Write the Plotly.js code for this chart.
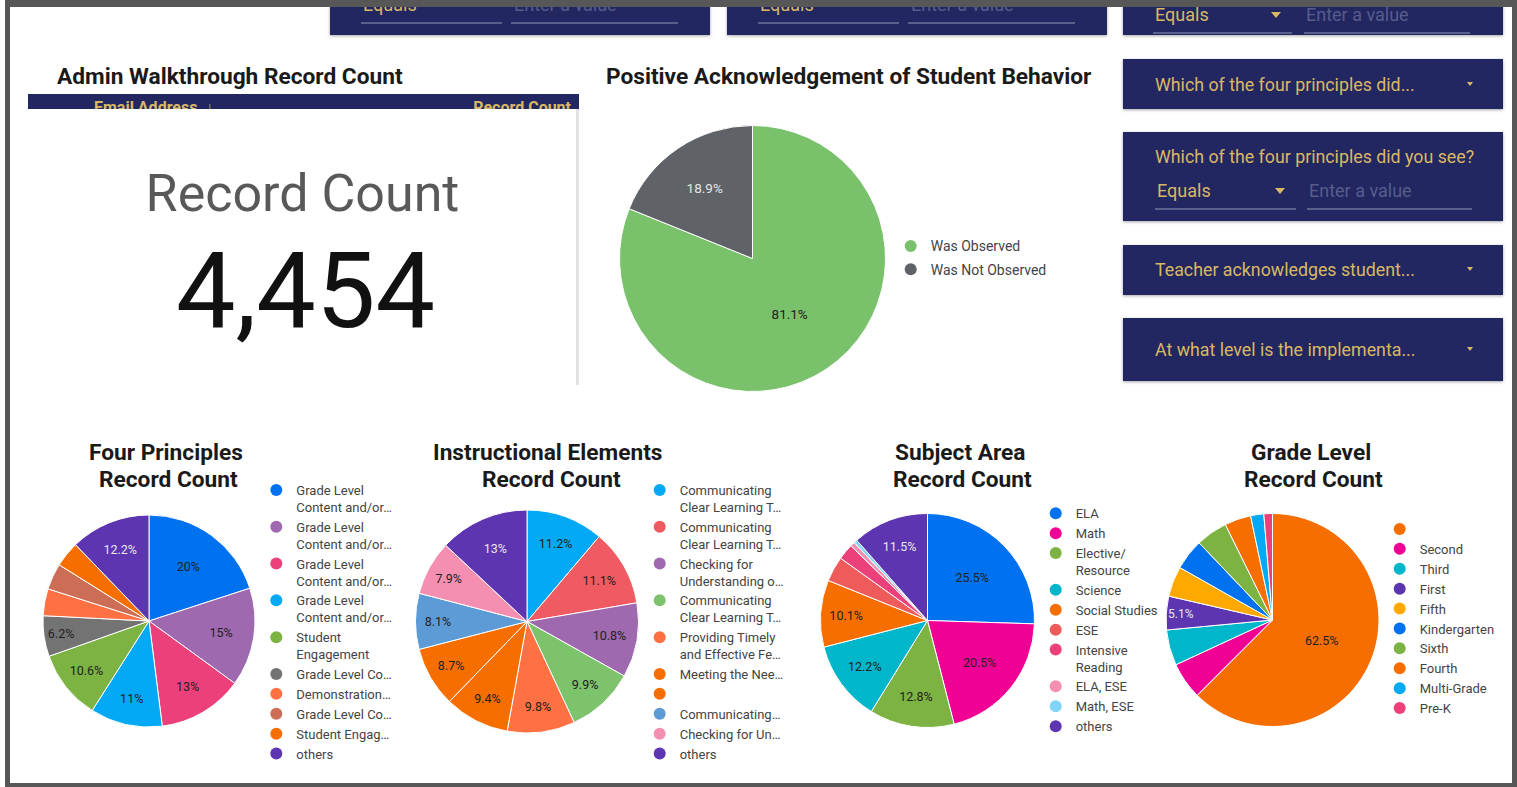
<!DOCTYPE html>
<html><head><meta charset="utf-8">
<script src="https://cdn.plot.ly/plotly-3.0.1.min.js"></script>
<style>
html,body{margin:0;padding:0;background:#fff;width:1517px;height:787px;overflow:hidden;font-family:Roboto,Arial,sans-serif;}
#chart{position:absolute;left:0;top:0;width:1517px;height:787px;z-index:1;}
.box{position:absolute;background:#222761;box-shadow:0 1px 3px rgba(0,0,0,.35);z-index:2;overflow:hidden;}
.gold{position:absolute;color:#d9b864;font-size:17.8px;white-space:nowrap;line-height:1;}
.eq{position:absolute;color:#d9b864;font-size:18px;white-space:nowrap;line-height:1;}
.ph{position:absolute;color:#585c8c;font-size:18px;white-space:nowrap;line-height:1;}
.ul{position:absolute;height:1.5px;background:#5b5f8c;}
.tri{position:absolute;width:0;height:0;border-left:5px solid transparent;border-right:5px solid transparent;border-top:6px solid #d9b864;}
.tri.s{border-left-width:3.5px;border-right-width:3.5px;border-top-width:4px;}
#frame{position:absolute;left:5px;top:0;width:1512px;height:787px;box-sizing:border-box;border-style:solid;border-color:#575757;border-width:7px 5px 4px 5px;z-index:5;pointer-events:none;}
#hdr{position:absolute;left:28px;top:94px;width:551px;height:16px;background:#222761;z-index:2;overflow:hidden;}
#hdr div{position:absolute;top:5.5px;color:#d9b864;font-weight:bold;font-size:16px;line-height:1;white-space:nowrap;}
#panel{position:absolute;left:11px;top:109px;width:565px;height:276px;background:#fff;border-right:3px solid #e2e2e2;z-index:3;}
#rcl{position:absolute;left:9px;width:565px;text-align:center;top:59px;font-size:52px;line-height:1;color:#595959;}
#rcv{position:absolute;left:12px;width:565px;text-align:center;top:129px;font-size:106px;line-height:1;color:#111;}
</style></head>
<body>
<div id="chart"></div>

<div class="box" style="left:330px;top:-20px;width:380px;height:55px;">
  <div class="eq" style="left:33px;top:16px;">Equals</div>
  <div class="ph" style="left:184px;top:16px;">Enter a value</div>
  <div class="ul" style="left:31px;top:42px;width:141px;"></div>
  <div class="ul" style="left:181px;top:42px;width:167px;"></div>
</div>
<div class="box" style="left:727px;top:-20px;width:380px;height:55px;">
  <div class="eq" style="left:33px;top:16px;">Equals</div>
  <div class="ph" style="left:184px;top:16px;">Enter a value</div>
  <div class="ul" style="left:31px;top:42px;width:141px;"></div>
  <div class="ul" style="left:181px;top:42px;width:167px;"></div>
</div>
<div class="box" style="left:1123px;top:-20px;width:380px;height:55px;">
  <div class="eq" style="left:32px;top:26px;">Equals</div>
  <div class="tri" style="left:148px;top:32px;"></div>
  <div class="ph" style="left:183px;top:26px;">Enter a value</div>
  <div class="ul" style="left:30px;top:52px;width:139px;"></div>
  <div class="ul" style="left:181px;top:52px;width:166px;"></div>
</div>

<div class="box" style="left:1123px;top:59px;width:380px;height:50px;">
  <div class="gold" style="left:32px;top:17px;">Which of the four principles did...</div>
  <div class="tri s" style="left:344px;top:23px;"></div>
</div>
<div class="box" style="left:1123px;top:132px;width:380px;height:89px;">
  <div class="gold" style="left:32px;top:15.5px;">Which of the four principles did you see?</div>
  <div class="eq" style="left:34px;top:50px;">Equals</div>
  <div class="tri" style="left:152px;top:56px;"></div>
  <div class="ph" style="left:186px;top:50px;">Enter a value</div>
  <div class="ul" style="left:32px;top:76px;width:141px;"></div>
  <div class="ul" style="left:184px;top:76px;width:165px;"></div>
</div>
<div class="box" style="left:1123px;top:245px;width:380px;height:50px;">
  <div class="gold" style="left:32px;top:15.5px;">Teacher acknowledges student...</div>
  <div class="tri s" style="left:344px;top:22px;"></div>
</div>
<div class="box" style="left:1123px;top:318px;width:380px;height:63px;">
  <div class="gold" style="left:32px;top:22.5px;">At what level is the implementa...</div>
  <div class="tri s" style="left:344px;top:29px;"></div>
</div>

<div id="hdr"><div style="left:66px;">Email Address&nbsp;&nbsp;↓</div><div style="right:8px;">Record Count</div></div>
<div id="panel"><div id="rcl">Record Count</div><div id="rcv">4,454</div></div>
<div id="frame"></div>

<script>
// ---------- DATA ----------
const ackLabels = ['Was Observed', 'Was Not Observed'];
const ackValues = [81.1, 18.9];
const ackColors = ['#79c16b', '#5f6368'];

const fourLabels = ['Grade Level<br>Content and/or…', 'Grade Level<br>Content and/or…', 'Grade Level<br>Content and/or…', 'Grade Level<br>Content and/or…', 'Student<br>Engagement', 'Grade Level Co…', 'Demonstration…', 'Grade Level Co…', 'Student Engag…', 'others'];
const fourValues = [20, 15, 13, 11, 10.6, 6.2, 4.1, 4.0, 3.9, 12.2];
const fourColors = ['#0072f0', '#9e69af', '#ec407a', '#03a9f4', '#7cb342', '#737373', '#ff7043', '#cc6e55', '#f66d00', '#5e35b1'];

const instLabels = ['Communicating<br>Clear Learning T…', 'Communicating<br>Clear Learning T…', 'Checking for<br>Understanding o…', 'Communicating<br>Clear Learning T…', 'Providing Timely<br>and Effective Fe…', 'Meeting the Nee…', '', 'Communicating…', 'Checking for Un…', 'others'];
const instValues = [11.2, 11.1, 10.8, 9.9, 9.8, 9.4, 8.7, 8.1, 7.9, 13];
const instColors = ['#03a9f4', '#ef5a63', '#9e69af', '#7cc36c', '#ff7043', '#f66d00', '#f66d00', '#5c9bd5', '#f48fb1', '#5e35b1'];

const subjLabels = ['ELA', 'Math', 'Elective/<br>Resource', 'Science', 'Social Studies', 'ESE', 'Intensive<br>Reading', 'ELA, ESE', 'Math, ESE', 'others'];
const subjValues = [25.5, 20.5, 12.8, 12.2, 10.1, 3.8, 2.4, 0.7, 0.5, 11.5];
const subjColors = ['#0072f0', '#f10096', '#7cb342', '#00b6cb', '#f66d00', '#ef5a5a', '#ec407a', '#f48fb1', '#81d4fa', '#5e35b1'];

const gradeLabels = ['', 'Second', 'Third', 'First', 'Fifth', 'Kindergarten', 'Sixth', 'Fourth', 'Multi-Grade', 'Pre-K'];
const gradeValues = [62.5, 5.6, 5.4, 5.1, 4.6, 4.7, 4.8, 4.0, 2.0, 1.3];
const gradeColors = ['#f66d00', '#f10096', '#00b6cb', '#5e35b1', '#ffa800', '#0072f0', '#7cb342', '#f66d00', '#03a9f4', '#ec407a'];

// which slices carry a visible percentage label (as in the original)
const ackShow = [true, true];
const fourShow = [true, true, true, true, true, true, false, false, false, true];
const instShow = [true, true, true, true, true, true, true, true, true, true];
const subjShow = [true, true, true, true, true, false, false, false, false, true];
const gradeShow = [true, false, false, true, false, false, false, false, false, false];

// ---------- BUILD ----------
const W = 1517, H = 787;
const FONT = 'Roboto, Arial, sans-serif';
function dom(cx, cy, r) { return { x: [(cx - r) / W, (cx + r) / W], y: [1 - (cy + r) / H, 1 - (cy - r) / H] }; }
const darkText = '#e6e6e6', normText = '#222';
function txtColors(colors) {
  return colors.map(c => (c === '#5e35b1' || c === '#5f6368') ? darkText : normText);
}

const traces = [];
function addPie(values, colors, show, domain, size, legendId, labels, grouped) {
  traces.push({
    type: 'pie', values: values, sort: false, direction: 'clockwise', rotation: 0,
    marker: { colors: colors, line: { color: '#ffffff', width: 1 } },
    texttemplate: show.map(s => s ? '%{value}%' : ''),
    textposition: 'inside', insidetextorientation: 'horizontal',
    textfont: { family: FONT, size: size, color: txtColors(colors) },
    hoverinfo: 'skip', showlegend: false, domain: domain
  });
  labels.forEach((lab, i) => {
    const t = {
      type: 'scatter', mode: 'markers', x: [null], y: [null], name: lab,
      marker: { color: colors[i], size: 12, symbol: 'circle' },
      legend: legendId, hoverinfo: 'skip', showlegend: true
    };
    if (grouped) t.legendgroup = legendId + '_' + i;
    traces.push(t);
  });
}

addPie(ackValues, ackColors, ackShow, dom(752.5, 258.5, 133), 13.5, 'legend', ackLabels, true);
addPie(fourValues, fourColors, fourShow, dom(149, 621, 106), 12.5, 'legend2', fourLabels, false);
addPie(instValues, instColors, instShow, dom(527, 621.5, 111.5), 12.5, 'legend3', instLabels, false);
addPie(subjValues, subjColors, subjShow, dom(927.5, 620.5, 107), 12.5, 'legend4', subjLabels, false);
addPie(gradeValues, gradeColors, gradeShow, dom(1272.5, 620, 106.5), 12.5, 'legend5', gradeLabels, false);

function leg(textX, topY, size, extra) {
  return Object.assign({
    x: (textX - 37) / W, y: 1 - topY / H, xanchor: 'left', yanchor: 'top',
    font: { family: FONT, size: size, color: '#444' },
    bgcolor: 'rgba(0,0,0,0)', borderwidth: 0, valign: 'top', orientation: 'v'
  }, extra || {});
}

function title(text, x, y, anchor) {
  return { text: '<b>' + text + '</b>', x: x / W, y: 1 - y / H, xref: 'paper', yref: 'paper',
    xanchor: anchor, yanchor: 'middle', showarrow: false,
    font: { family: FONT, size: 22.7, color: '#1a1a1a' } };
}

const layout = {
  width: W, height: H, autosize: false,
  margin: { l: 0, r: 0, t: 0, b: 0, pad: 0 },
  paper_bgcolor: 'rgba(0,0,0,0)', plot_bgcolor: 'rgba(0,0,0,0)',
  xaxis: { visible: false, range: [0, 1], fixedrange: true },
  yaxis: { visible: false, range: [0, 1], fixedrange: true },
  legend: leg(927.7, 230.4, 14, { traceorder: 'grouped', tracegroupgap: 2 }),
  legend2: leg(293.3, 475, 13),
  legend3: leg(676.7, 475, 13),
  legend4: leg(1072.7, 498.3, 13),
  legend5: leg(1416.7, 514, 13),
  annotations: [
    title('Admin Walkthrough Record Count', 55, 76, 'left'),
    title('Positive Acknowledgement of Student Behavior', 848.5, 76, 'center'),
    title('Four Principles', 165.5, 452, 'center'),
    title('Record Count', 168.5, 479, 'center'),
    title('Instructional Elements', 547.5, 452, 'center'),
    title('Record Count', 551, 479, 'center'),
    title('Subject Area', 959.5, 452, 'center'),
    title('Record Count', 962.5, 479, 'center'),
    title('Grade Level', 1311, 452, 'center'),
    title('Record Count', 1313.5, 479, 'center')
  ]
};

Plotly.newPlot('chart', traces, layout, { displayModeBar: false, staticPlot: true });
</script>
</body></html>
